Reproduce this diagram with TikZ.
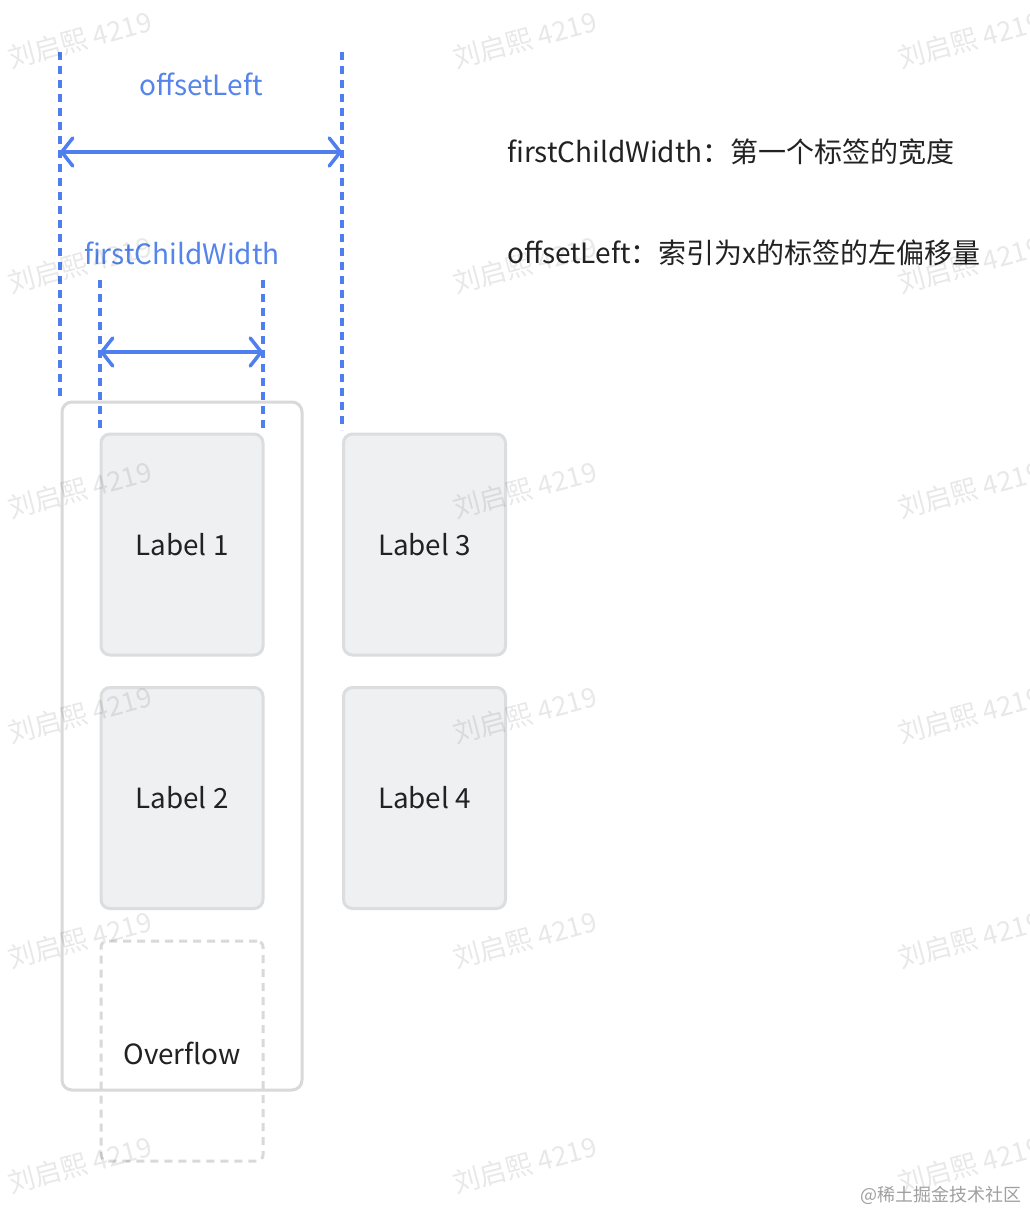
\documentclass[tikz,border=0pt]{standalone}
\usepackage{fontspec}
\setmainfont{Noto Sans CJK SC}
\usetikzlibrary{arrows.meta}
\definecolor{dimblue}{HTML}{4F7FEF}
\definecolor{txtblue}{HTML}{5585EA}
\definecolor{boxfill}{HTML}{EFF0F1}
\definecolor{boxline}{HTML}{DCDDDE}
\definecolor{contline}{HTML}{D9D9D9}
\definecolor{ink}{HTML}{222222}
\definecolor{credit}{HTML}{A0A0A0}
\begin{document}
\begin{tikzpicture}[x=1pt,y=-1pt,
  guide/.style={draw=dimblue, line width=3.5pt, dash pattern=on 8pt off 6pt},
  barb/.tip={Straight Barb[length=11pt,width=28pt,line join=round,line cap=round]},
  dimarrow/.style={draw=dimblue, line width=3.5pt, barb-barb},
  dimlabel/.style={text=txtblue, font=\fontsize{28}{32}\selectfont, inner sep=0pt},
  labelbox/.style={draw=boxline, fill=boxfill, line width=3pt, rounded corners=9pt,
    minimum width=162pt, minimum height=221pt, inner sep=0pt, text=ink,
    font=\fontsize{27.8}{32}\selectfont},
  overflowbox/.style={draw=contline, line width=3pt, dash pattern=on 8pt off 6pt,
    rounded corners=6pt, minimum width=162pt, minimum height=220pt, inner sep=0pt},
  container/.style={draw=contline, fill=white, line width=3pt, rounded corners=10pt,
    minimum width=240pt, minimum height=688pt, inner sep=0pt},
  note/.style={anchor=west, text=ink, font=\fontsize{28}{32}\selectfont, inner sep=0pt},
  watermark/.style={rotate=15, text=black, opacity=0.09, font=\fontsize{27}{30}\selectfont, inner sep=0pt}
]
\path[fill=white] (0,0) rectangle (1030,1212);
\useasboundingbox (0,0) rectangle (1030,1212);

% container and labels
\node[container] (cont) at (182,746) {};
\node[labelbox] (l1) at (182,544.5) {Label 1};
\node[labelbox] (l2) at (182,798) {Label 2};
\node[labelbox] (l3) at (424.5,544.5) {Label 3};
\node[labelbox] (l4) at (424.5,798) {Label 4};
\node[overflowbox] (ov) at (182,1051) {};
\node[text=ink, font=\fontsize{27.8}{32}\selectfont, inner sep=0pt] (ovt) at (182,1053) {Overflow};

% guide coordinates
\coordinate (gA1) at (60,52);  \coordinate (gA2) at (60,398);
\coordinate (gB1) at (342,52); \coordinate (gB2) at (342,430);
\coordinate (gC1) at (100,280); \coordinate (gC2) at (100,432);
\coordinate (gD1) at (263,280); \coordinate (gD2) at (263,432);
\draw[guide] (gA1) -- (gA2);
\draw[guide] (gB1) -- (gB2);
\draw[guide] (gC1) -- (gC2);
\draw[guide] (gD1) -- (gD2);

% dimension arrows
\coordinate (oL) at (60,152); \coordinate (oR) at (342,152);
\coordinate (fL) at (100,352); \coordinate (fR) at (263,352);
\draw[dimarrow] (oL) -- (oR);
\draw[dimarrow] (fL) -- (fR);
\node[dimlabel] (offlab) at (201,84) {offsetLeft};
\node[dimlabel] (fcwlab) at (182,253) {firstChildWidth};

% notes
\node[note] (n1) at (507,152) {firstChildWidth：第一个标签的宽度};
\node[note] (n2) at (507,253) {offsetLeft：索引为x的标签的左偏移量};

% watermarks
\foreach \x in {80,525,970} {
  \foreach \y in {40,265,490,715,940,1165} {
    \node[watermark] (wm-\x-\y) at (\x,\y) {刘启熙 4219};
  }
}
\node[anchor=east, text=credit, font=\fontsize{18}{20}\selectfont, inner sep=0pt] (credit) at (1022,1195) {@稀土掘金技术社区};
\end{tikzpicture}
\end{document}
